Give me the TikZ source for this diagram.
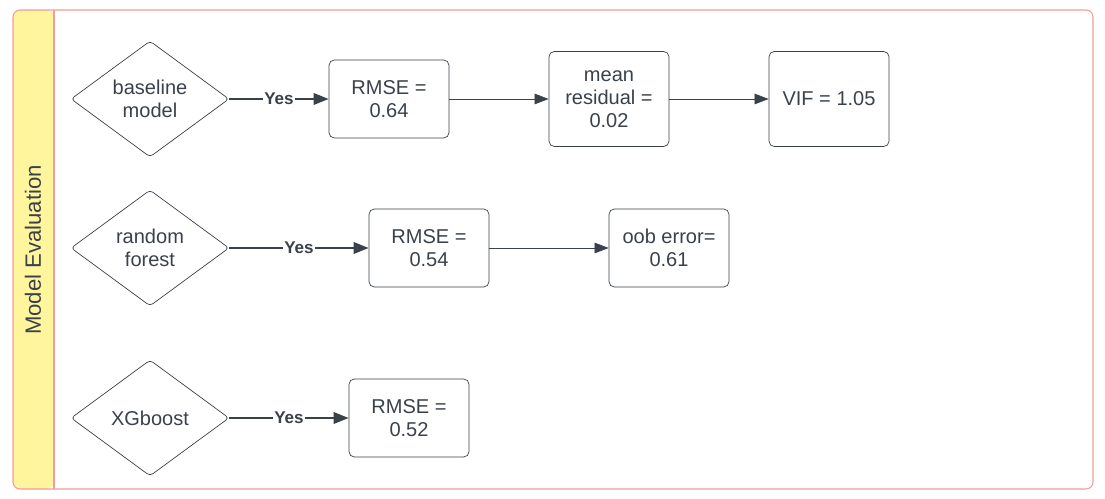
\documentclass[tikz,border=0pt]{standalone}
\usepackage{fontspec}
\setmainfont{Liberation Sans}
\usetikzlibrary{positioning,arrows.meta,shapes.geometric}

\definecolor{lanepink}{HTML}{F49A9A}
\definecolor{laneyellow}{HTML}{FFF59D}
\definecolor{inkgray}{HTML}{3A414A}

\begin{document}
\begin{tikzpicture}[
  x=0.02cm, y=-0.02cm,
  decision/.style={
    diamond, draw=inkgray, thin, rounded corners=2pt, minimum width=3.16cm,
    minimum height=2.32cm, inner sep=0pt, align=center, text=inkgray,
    font=\fontsize{11.4}{13.2}\selectfont
  },
  result/.style={
    rectangle, draw=inkgray, thin, rounded corners=3pt, minimum width=2.4cm,
    minimum height=1.56cm, align=center, text=inkgray,
    font=\fontsize{11.4}{13.2}\selectfont
  },
  yesarrow/.style={-{Triangle[length=8.5pt,width=6.5pt]}, line width=1.1pt, inkgray},
  nextarrow/.style={-{Triangle[length=8pt,width=6pt]}, thin, inkgray},
  yeslabel/.style={midway, fill=white, inner sep=1pt, text=inkgray,
    font=\bfseries\fontsize{9.7}{11}\selectfont}
]
\useasboundingbox (0,0) rectangle (1105,499);

% === Swimlane frame ===
\fill[laneyellow, rounded corners=4pt] (13,10) rectangle (54,489);
\draw[lanepink, line width=0.6pt, rounded corners=4pt] (13,10) rectangle (1093,489);
\draw[lanepink, line width=0.6pt] (54,10) -- (54,489);
\node[rotate=90, text=inkgray, font=\fontsize{12.6}{15}\selectfont] (lane) at (33,250) {Model Evaluation};

% === Decisions ===
\node[decision] (base) at (150,99) {baseline\\model};
\node[decision] (forest) at (150,248) {random\\forest};
\node[decision] (xgb) at (150,418) {XGboost};

% === Baseline results ===
\node[result] (rmsebase) at (389,99) {RMSE =\\0.64};
\node[result, minimum height=1.9cm] (resid) at (609,99) {mean\\residual =\\0.02};
\node[result, minimum height=1.9cm] (vif) at (829,99) {VIF = 1.05};

% === Random forest results ===
\node[result] (rmseforest) at (429,248) {RMSE =\\0.54};
\node[result] (oob) at (669,248) {oob error=\\0.61};

% === XGboost result ===
\node[result] (rmsexgb) at (409,418) {RMSE =\\0.52};

% === Connectors ===
\draw[yesarrow] (base) -- (rmsebase) node[yeslabel] {Yes};
\draw[nextarrow] (rmsebase) -- (resid);
\draw[nextarrow] (resid) -- (vif);

\draw[yesarrow] (forest) -- (rmseforest) node[yeslabel] {Yes};
\draw[nextarrow] (rmseforest) -- (oob);

\draw[yesarrow] (xgb) -- (rmsexgb) node[yeslabel] {Yes};

\end{tikzpicture}
\end{document}
